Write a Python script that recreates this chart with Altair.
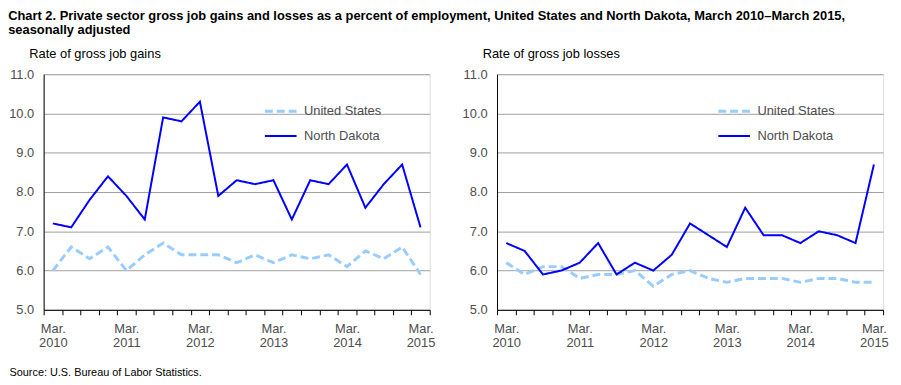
import json
import altair as alt
import pandas as pd

quarters = [
    "Mar. 2010", "Jun. 2010", "Sep. 2010", "Dec. 2010",
    "Mar. 2011", "Jun. 2011", "Sep. 2011", "Dec. 2011",
    "Mar. 2012", "Jun. 2012", "Sep. 2012", "Dec. 2012",
    "Mar. 2013", "Jun. 2013", "Sep. 2013", "Dec. 2013",
    "Mar. 2014", "Jun. 2014", "Sep. 2014", "Dec. 2014",
    "Mar. 2015",
]
series_names = ["United States", "North Dakota"]

us_gains = [6.0, 6.6, 6.3, 6.6, 6.0, 6.4, 6.7, 6.4, 6.4, 6.4, 6.2,
            6.4, 6.2, 6.4, 6.3, 6.4, 6.1, 6.5, 6.3, 6.6, 5.9]
nd_gains = [7.2, 7.1, 7.8, 8.4, 7.9, 7.3, 9.9, 9.8, 10.3, 7.9, 8.3,
            8.2, 8.3, 7.3, 8.3, 8.2, 8.7, 7.6, 8.2, 8.7, 7.1]
us_losses = [6.2, 5.9, 6.1, 6.1, 5.8, 5.9, 5.9, 6.0, 5.6, 5.9, 6.0,
             5.8, 5.7, 5.8, 5.8, 5.8, 5.7, 5.8, 5.8, 5.7, 5.7]
nd_losses = [6.7, 6.5, 5.9, 6.0, 6.2, 6.7, 5.9, 6.2, 6.0, 6.4, 7.2,
             6.9, 6.6, 7.6, 6.9, 6.9, 6.7, 7.0, 6.9, 6.7, 8.7]

title_lines = [
    "Chart 2. Private sector gross job gains and losses as a percent of employment, United States and North Dakota, March 2010\u2013March 2015,",
    "seasonally adjusted",
]
source_text = "Source: U.S. Bureau of Labor Statistics."

FONT = "Liberation Sans"
W, H = 390, 238
N = len(quarters)

# axis labels: only March quarters, split onto two lines
label_arr = [q if q.startswith("Mar.") else "" for q in quarters] + [""]
label_expr = f"split({json.dumps(label_arr)}[datum.value], ' ')"


def make_df(us, nd):
    rows = []
    for name, vals in zip(series_names, [us, nd]):
        for i, (q, v) in enumerate(zip(quarters, vals)):
            rows.append({"idx": i, "quarter": q, "series": name, "value": v})
    return pd.DataFrame(rows)


def legend():
    return alt.Legend(
        title=None, orient="none", legendX=222, legendY=25,
        symbolType="stroke", symbolSize=1024, labelOffset=6,
        labelFontSize=13, labelColor="#4d4d4d", labelFont=FONT,
        padding=0, rowPadding=0, clipHeight=25,
    )


def panel(df, ytitle, xtitle):
    xaxis = dict(
        values=list(range(N + 1)),
        labelExpr=label_expr,
        labelOffset=W / N / 2,
        labelFlush=False,
        labelOverlap=False,
        labelFontSize=13,
        labelColor="#4d4d4d",
        labelLineHeight=14,
        labelPadding=8,
        labelFont=FONT,
        tickSize=5,
        tickColor="black",
        domainColor="black",
        grid=False,
    )
    if xtitle:
        xaxis.update(
            title=xtitle, titleX=-35, titleY=66, titleAlign="left",
            titleBaseline="alphabetic", titleFontSize=11,
            titleFontWeight="normal", titleFont=FONT, titleColor="black",
        )
    else:
        xaxis.update(title=None)
    return (
        alt.Chart(df)
        .transform_calculate(xpos="datum.idx + 0.5")
        .mark_line()
        .encode(
            x=alt.X("xpos:Q", scale=alt.Scale(domain=[0, N], nice=False, zero=False),
                    axis=alt.Axis(**xaxis)),
            y=alt.Y("value:Q", scale=alt.Scale(domain=[5, 11], nice=False, zero=False),
                    axis=alt.Axis(
                        values=[5, 6, 7, 8, 9, 10, 11], format=".1f",
                        title=ytitle, titleAngle=0, titleAlign="left",
                        titleBaseline="alphabetic", titleX=-15, titleY=-17,
                        titleFontWeight="normal", titleFontSize=13, titleFont=FONT,
                        titleColor="black",
                        ticks=False, tickSize=0, labelPadding=10,
                        labelFontSize=13, labelColor="#4d4d4d", labelFont=FONT,
                        domainColor="black", gridColor="#a0a0a0",
                    )),
            color=alt.Color("series:N",
                            scale=alt.Scale(domain=series_names, range=["#99ccff", "#0000ff"]),
                            legend=legend()),
            strokeDash=alt.StrokeDash("series:N",
                                      scale=alt.Scale(domain=series_names, range=[[8, 4], [1, 0]]),
                                      legend=legend()),
            strokeWidth=alt.StrokeWidth("series:N",
                                        scale=alt.Scale(domain=series_names, range=[3, 2]),
                                        legend=legend()),
            order=alt.Order("idx:Q"),
        )
        .properties(width=W, height=H)
    )


left = panel(make_df(us_gains, nd_gains), "Rate of gross job gains", source_text)
right = panel(make_df(us_losses, nd_losses), "Rate of gross job losses", None)

chart = (
    alt.hconcat(left, right, spacing=22)
    .resolve_scale(color="independent", strokeDash="independent", strokeWidth="independent")
    .resolve_legend(color="independent", strokeDash="independent", strokeWidth="independent")
    .properties(
        title=alt.TitleParams(
            text=title_lines, anchor="start", fontSize=13, fontWeight="bold",
            font=FONT, lineHeight=14, color="black", offset=10,
        ),
        padding=0,
    )
    .configure_view(stroke="#a0a0a0")
    .configure(font=FONT)
)

chart.save("out.html", embed_options={"renderer": "svg", "actions": False})
